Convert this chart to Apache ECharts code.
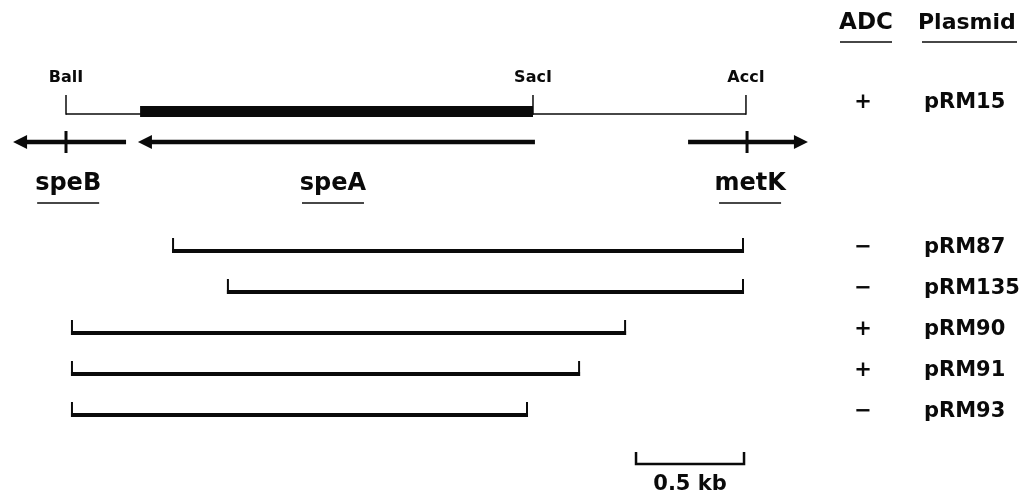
<!DOCTYPE html>
<html><head><meta charset="utf-8">
<script src="https://cdn.jsdelivr.net/npm/echarts@6/dist/echarts.min.js"></script>
<style>html,body{margin:0;padding:0;background:#fff}#c{width:1028px;height:496px}</style>
</head><body><div id="c"></div>
<script>
// ---------- data (positions in kb, measured from the BalI site) ----------
const sites = ['BalI', 'SacI', 'AccI'];
const siteKb = [0, 2.162, 3.148];
const codingKb = [0.343, 2.162];               // thick bar (speA coding region)
const genes = ['speB', 'speA', 'metK'];
const geneTailKb = [0.278, 2.171, 2.880];
const geneTipKb = [-0.245, 0.333, 3.435];
const geneTickKb = [0, null, 3.153];
const geneLabelKb = [0.01, 1.236, 3.167];
const plasmids = ['pRM15', 'pRM87', 'pRM135', 'pRM90', 'pRM91', 'pRM93'];
const adc = ['+', '−', '−', '+', '+', '−'];
const fragStartKb = [null, 0.491, 0.745, 0.023, 0.023, 0.023];
const fragEndKb = [null, 3.139, 3.139, 2.593, 2.380, 2.139];
const scaleBarKb = 0.5;
const scaleBarEndKb = 3.139;
const scaleBarLabel = '0.5 kb';
const headers = ['ADC', 'Plasmid'];

// ---------- layout ----------
const L = {
  W: 1028, H: 496, pxPerKb: 216, originPx: 66,
  headerY: 23, headerUnderY: 42,
  adcX: 863, plasmidX: 924,
  siteLabelY: 78, siteTopY: 95, mapY: 114, codingTop: 106, codingBottom: 117,
  arrowY: 142, tickTop: 131, tickBottom: 153, headLen: 14, headHalf: 7,
  geneLabelY: 184, geneUnderY: 203, geneUnderHalf: 31,
  pRM15Y: 103,
  rowLineY: [null, 251, 292, 333, 374, 415],
  fragTick: 13,
  scaleY: 464, scaleTick: 12, scaleLabelY: 485
};
const INK = '#0a0a0a';
const FONT = '"DejaVu Sans", "Liberation Sans", sans-serif';

const chart = echarts.init(document.getElementById('c'), null, {renderer: 'canvas'});
const xMin = -L.originPx / L.pxPerKb;
const xMax = (L.W - L.originPx) / L.pxPerKb;

function txt(x, y, text, size, align) {
  return {type: 'text', x: x, y: y, style: {text: text, fill: INK, fontFamily: FONT,
    fontWeight: 'bold', fontSize: size, align: align || 'center', verticalAlign: 'middle'}};
}
function ln(x1, y1, x2, y2, w) {
  return {type: 'line', shape: {x1: x1, y1: y1, x2: x2, y2: y2}, style: {stroke: INK, lineWidth: w}};
}

const base = {type: 'custom', coordinateSystem: 'cartesian2d', clip: false, silent: true, animation: false};

const series = [
  // backbone + coding region
  Object.assign({}, base, {
    data: [[siteKb[0], L.mapY]],
    renderItem: function (params, api) {
      const a = api.coord([siteKb[0], L.mapY]);
      const b = api.coord([siteKb[siteKb.length - 1], L.mapY]);
      const c0 = api.coord([codingKb[0], L.codingTop]);
      const c1 = api.coord([codingKb[1], L.codingBottom]);
      return {type: 'group', children: [
        ln(a[0], a[1], b[0], b[1], 1.5),
        {type: 'rect', shape: {x: c0[0], y: c0[1], width: c1[0] - c0[0], height: c1[1] - c0[1]}, style: {fill: INK}}
      ]};
    }
  }),
  // restriction sites
  Object.assign({}, base, {
    data: siteKb.map(function (k) { return [k, L.mapY]; }),
    renderItem: function (params, api) {
      const i = params.dataIndex;
      const top = api.coord([siteKb[i], L.siteTopY]);
      const bot = api.coord([siteKb[i], L.mapY]);
      const lab = api.coord([siteKb[i], L.siteLabelY]);
      return {type: 'group', children: [
        ln(top[0], top[1], bot[0], bot[1] + 0.75, 1.5),
        txt(lab[0], lab[1], sites[i], 16)
      ]};
    }
  }),
  // gene arrows
  Object.assign({}, base, {
    data: genes.map(function (g, i) { return [geneTailKb[i], L.arrowY]; }),
    renderItem: function (params, api) {
      const i = params.dataIndex;
      const tail = api.coord([geneTailKb[i], L.arrowY]);
      const tip = api.coord([geneTipKb[i], L.arrowY]);
      const dir = tip[0] > tail[0] ? 1 : -1;
      const neck = tip[0] - dir * L.headLen;
      const ch = [
        ln(tail[0], tail[1], neck + dir * 2, tail[1], 4.5),
        {type: 'polygon', shape: {points: [[tip[0], tip[1]], [neck, tip[1] - L.headHalf], [neck, tip[1] + L.headHalf]]}, style: {fill: INK}}
      ];
      if (geneTickKb[i] !== null) {
        const t0 = api.coord([geneTickKb[i], L.tickTop]);
        const t1 = api.coord([geneTickKb[i], L.tickBottom]);
        ch.push(ln(t0[0], t0[1], t1[0], t1[1], 3));
      }
      const lab = api.coord([geneLabelKb[i], L.geneLabelY]);
      const und = api.coord([geneLabelKb[i], L.geneUnderY]);
      ch.push(txt(lab[0], lab[1], genes[i], 24));
      ch.push(ln(und[0] - L.geneUnderHalf, und[1], und[0] + L.geneUnderHalf, und[1], 1.5));
      return {type: 'group', children: ch};
    }
  }),
  // plasmid rows
  Object.assign({}, base, {
    data: plasmids.map(function (p, i) { return [fragStartKb[i] === null ? 0 : fragStartKb[i], L.rowLineY[i] || L.pRM15Y]; }),
    renderItem: function (params, api) {
      const i = params.dataIndex;
      const ch = [];
      let ty;
      if (fragStartKb[i] !== null) {
        const s = api.coord([fragStartKb[i], L.rowLineY[i]]);
        const e = api.coord([fragEndKb[i], L.rowLineY[i]]);
        ch.push(ln(s[0], s[1], e[0], e[1], 4));
        ch.push(ln(s[0] + 1, s[1] + 2, s[0] + 1, s[1] - L.fragTick, 2));
        ch.push(ln(e[0] - 1, e[1] + 2, e[0] - 1, e[1] - L.fragTick, 2));
        ty = s[1] - 3;
      } else {
        ty = api.coord([0, L.pRM15Y])[1];
      }
      ch.push(txt(L.adcX, ty, adc[i], 21));
      ch.push(txt(L.plasmidX, ty, plasmids[i], 21, 'left'));
      return {type: 'group', children: ch};
    }
  }),
  // headers + scale bar
  Object.assign({}, base, {
    data: [[scaleBarEndKb - scaleBarKb, L.scaleY]],
    renderItem: function (params, api) {
      const a = api.coord([scaleBarEndKb - scaleBarKb, L.scaleY]);
      const b = api.coord([scaleBarEndKb, L.scaleY]);
      return {type: 'group', children: [
        {type: 'polyline', shape: {points: [[a[0], a[1] - L.scaleTick], [a[0], a[1]], [b[0], b[1]], [b[0], b[1] - L.scaleTick]]},
          style: {stroke: INK, lineWidth: 2.5, fill: null}},
        txt((a[0] + b[0]) / 2, L.scaleLabelY, scaleBarLabel, 21),
        txt(866, L.headerY, headers[0], 23),
        ln(840, L.headerUnderY, 892, L.headerUnderY, 1.5),
        txt(918, L.headerY, headers[1], 22, 'left'),
        ln(922, L.headerUnderY, 1017, L.headerUnderY, 1.5)
      ]};
    }
  })
];

chart.setOption({
  backgroundColor: '#fff',
  animation: false,
  grid: {left: 0, right: 0, top: 0, bottom: 0},
  xAxis: {type: 'value', min: xMin, max: xMax, show: false},
  yAxis: {type: 'value', min: 0, max: L.H, inverse: true, show: false},
  series: series
});
</script>
</body></html>
